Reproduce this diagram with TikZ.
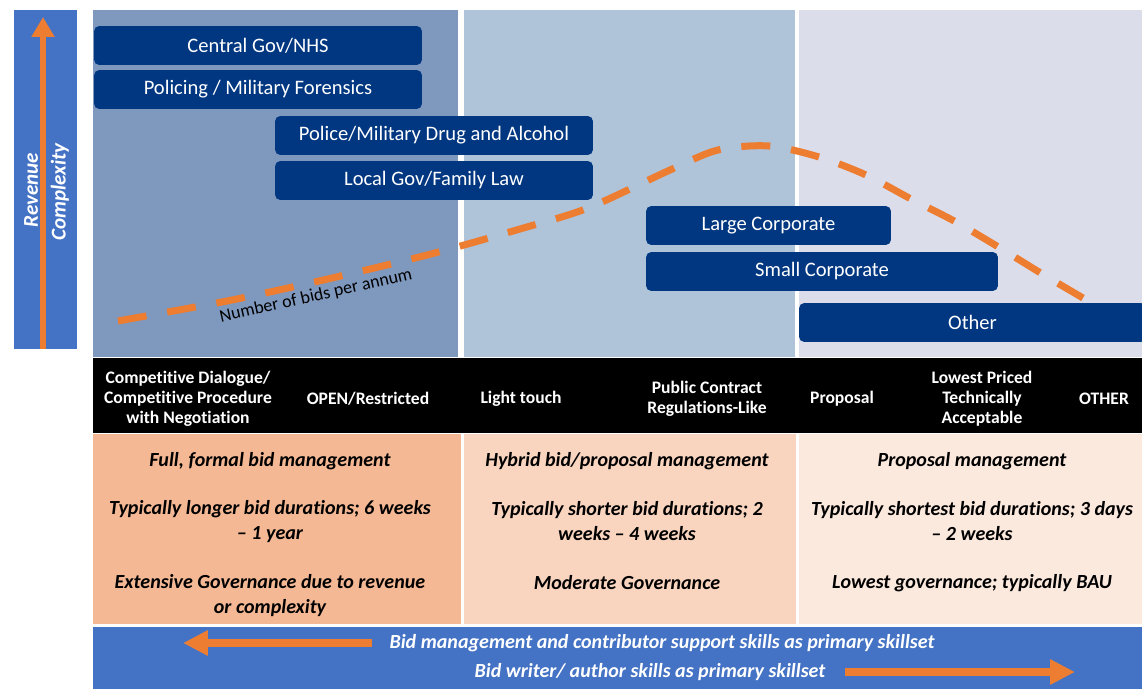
\documentclass[tikz,border=0pt]{standalone}
\usepackage{fontspec}
\setmainfont{Carlito}[Ligatures=NoCommon]
\usepackage{tikz}
\usetikzlibrary{calc, arrows.meta}

\definecolor{axisblue}{HTML}{4472C4}
\definecolor{navy}{HTML}{003780}
\definecolor{bandA}{HTML}{7E98BE}
\definecolor{bandB}{HTML}{AFC3D9}
\definecolor{bandC}{HTML}{DCDDEB}
\definecolor{tintA}{HTML}{F4B994}
\definecolor{tintB}{HTML}{F9D5BF}
\definecolor{tintC}{HTML}{FCE9DE}
\definecolor{accent}{HTML}{ED7D31}

\tikzstyle{grp}=[fill=navy, rounded corners=3pt, text=white, inner sep=0pt, minimum height=0.78cm, font=\fontsize{11.7}{13}\selectfont]
\tikzstyle{proc}=[text=white, align=center, inner sep=0pt, yshift=-1.1pt, font=\fontsize{10}{11.3}\selectfont\bfseries]
\tikzstyle{desc}=[align=center, inner sep=0pt, yshift=-1.1pt, font=\fontsize{11.4}{14.2}\selectfont\bfseries\itshape]
\tikzstyle{skill}=[text=white, inner sep=0pt, font=\fontsize{11.4}{13}\selectfont\bfseries\itshape]
\tikzstyle{fat}=[draw=accent, line width=0.16cm, -{Triangle[length=0.5cm, width=0.48cm]}]
\tikzstyle{bids}=[draw=accent, line width=0.14cm, dash pattern=on 0.58cm off 0.42cm]

\begin{document}
\begin{tikzpicture}[x=0.02cm, y=-0.02cm]
      \useasboundingbox (0,0) rectangle (1142,689);
      \fill[white] (0,0) rectangle (1142,689);

      % bands behind the groups
      \fill[axisblue] (14,10) rectangle (77,349);
      \fill[bandA] (93,10) rectangle (458,357);
      \fill[bandB] (464,10) rectangle (795,357);
      \fill[bandC] (799,10) rectangle (1142,357);
      \fill[black] (93,358) rectangle (1142,433);
      \fill[tintA] (93,434) rectangle (461,624);
      \fill[tintB] (464,434) rectangle (796,624);
      \fill[tintC] (799,434) rectangle (1142,624);
      \fill[axisblue] (93,627) rectangle (1142,689);

      % vertical axis
      \coordinate (ax0) at (43,349);
      \coordinate (ax1) at (43,17);
      \draw[accent, line width=0.14cm, -{Triangle[length=0.4cm, width=0.44cm]}] (ax0) -- (ax1);
      \node[skill, rotate=90, font=\fontsize{12}{13}\selectfont\bfseries\itshape] (rev) at (31,190) {Revenue};
      \node[skill, rotate=90, font=\fontsize{12}{13}\selectfont\bfseries\itshape] (cplx) at (60,192) {Complexity};

      % bids per annum
      \draw[bids] plot[smooth, tension=0.5] coordinates {(118,321) (232,300) (332,278) (431,254)
            (520,229) (588,208) (670,170) (718,150) (769,146) (819,157) (866,175)
            (911,199) (956,222) (1000,248) (1044,275) (1100,308)};
      \node[rotate=12.7, inner sep=0pt, font=\fontsize{10.2}{11}\selectfont] (nbids) at (316,296) {Number of bids per annum};

      % customer groups
      \node[grp, minimum width=6.56cm] (cgov) at (258,45.5) {Central Gov/NHS};
      \node[grp, minimum width=6.56cm] (police) at (258,89.5) {Policing / Military Forensics};
      \node[grp, minimum width=6.36cm] (drug) at (434,135.5) {Police/Military Drug and Alcohol};
      \node[grp, minimum width=6.36cm] (lgov) at (434,180.5) {Local Gov/Family Law};
      \node[grp, minimum width=4.90cm] (large) at (768.5,225.5) {Large Corporate};
      \node[grp, minimum width=7.04cm] (small) at (822,271.5) {Small Corporate};
      \node[grp, minimum width=6.94cm] (other) at (972.5,322.5) {Other};

      % procedures
      \node[proc] (cd) at (188,397) {Competitive Dialogue/\\Competitive Procedure\\with Negotiation};
      \node[proc] (open) at (368,397) {OPEN/Restricted};
      \node[proc] (light) at (521,397) {Light touch};
      \node[proc] (pcr) at (707,397) {Public Contract\\Regulations-Like};
      \node[proc] (prop) at (842,397) {Proposal};
      \node[proc] (lpta) at (982,397) {Lowest Priced\\Technically\\Acceptable};
      \node[proc] (oth) at (1104,397) {OTHER};

      % management style
      \node[desc] (full) at (270,459) {Full, formal bid management};
      \node[desc] (long) at (270,519.5) {Typically longer bid durations; 6 weeks\\– 1 year};
      \node[desc] (ext) at (270,593.5) {Extensive Governance due to revenue\\or complexity};
      \node[desc] (hyb) at (627,459) {Hybrid bid/proposal management};
      \node[desc] (short) at (627,519.5) {Typically shorter bid durations; 2\\weeks – 4 weeks};
      \node[desc] (mod) at (627,581) {Moderate Governance};
      \node[desc] (pm) at (972,459) {Proposal management};
      \node[desc] (shortest) at (972,519.5) {Typically shortest bid durations; 3 days\\– 2 weeks};
      \node[desc] (low) at (972,581) {Lowest governance; typically BAU};

      % skillsets
      \node[skill] (mgmt) at (662,643) {Bid management and contributor support skills as primary skillset};
      \node[skill] (writer) at (650,672) {Bid writer/ author skills as primary skillset};
      \coordinate (la0) at (372,643);
      \coordinate (la1) at (183,643);
      \coordinate (ra0) at (845,672);
      \coordinate (ra1) at (1075,672);
      \draw[fat] (la0) -- (la1);
      \draw[fat] (ra0) -- (ra1);
  \end{tikzpicture}
\end{document}
